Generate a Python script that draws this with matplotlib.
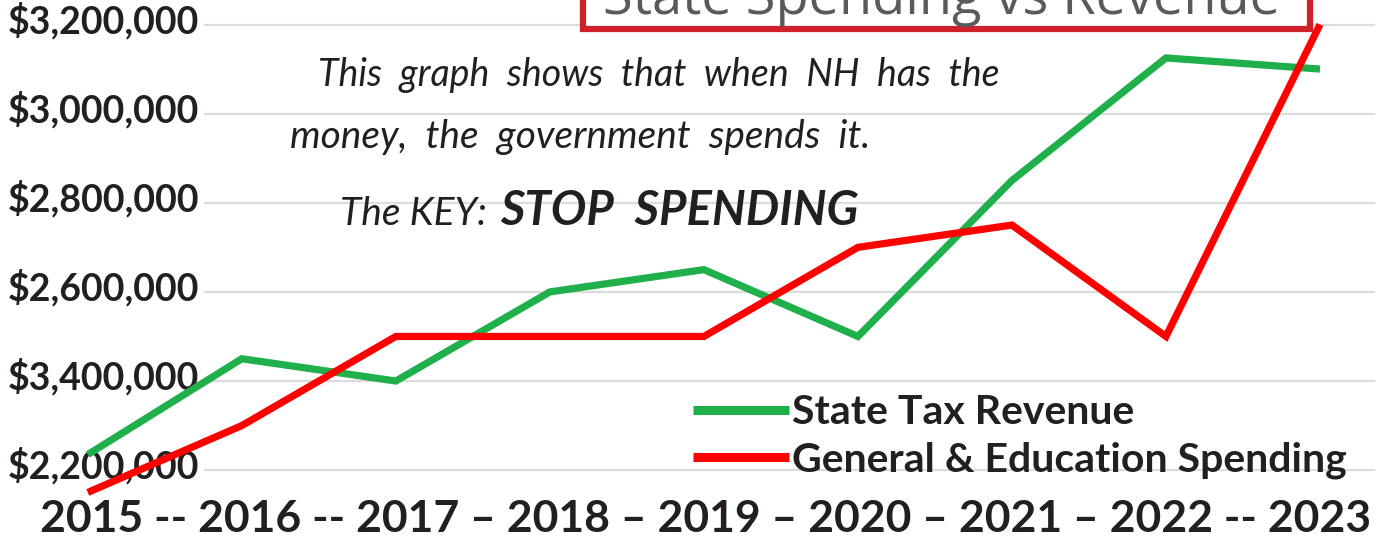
import matplotlib
matplotlib.use("Agg")
import matplotlib.pyplot as plt
import matplotlib.transforms as mtransforms
from matplotlib.patches import Rectangle

# data (values in dollars)
years = [2015, 2016, 2017, 2018, 2019, 2020, 2021, 2022, 2023]
revenue = [2235000, 2450000, 2400000, 2600000, 2650000, 2500000, 2850000, 3125000, 3100000]
spending = [2150000, 2300000, 2500000, 2500000, 2500000, 2700000, 2750000, 2500000, 3200000]

ytick_values = [2200000, 2400000, 2600000, 2800000, 3000000, 3200000]
# labels as printed in the source (note the "$3,400,000" typo)
ytick_labels = ["$2,200,000", "$3,400,000", "$2,600,000",
                "$2,800,000", "$3,000,000", "$3,200,000"]
year_separators = ["--", "--", "\u2013", "\u2013", "\u2013", "\u2013", "\u2013", "--"]

GREEN = "#1fb04b"
RED = "#ff0000"
GRID = "#dcdcdc"
INK = "#231f20"
W, H = 1397, 537

fig = plt.figure(figsize=(W / 100, H / 100), dpi=100)
ax = fig.add_axes([0, 0, 1, 1])
ax.set_xlim(2014.43, 2023.5)
ax.set_ylim(2050000, 3255000)
ax.axis("off")

# gridlines
for v in ytick_values:
    ax.axhline(v, xmin=205 / W, xmax=1374 / W, color=GRID, lw=1.6, zorder=1)

# y labels
ylab_tr = mtransforms.offset_copy(
    mtransforms.blended_transform_factory(ax.transAxes, ax.transData),
    fig=fig, y=4, units="dots")
for v, lab in zip(ytick_values, ytick_labels):
    ax.text(8 / W, v, lab, transform=ylab_tr, ha="left", va="center",
            fontsize=27, family="Lato", weight="bold", color=INK, zorder=3)

# x label string
parts = [str(years[0])]
for sep, y in zip(year_separators, years[1:]):
    parts.append(sep)
    parts.append(str(y))
ax.text(40 / W, 1 - 519 / H, " ".join(parts), transform=ax.transAxes,
        ha="left", va="center", fontsize=32, family="Lato", weight="bold",
        color=INK)

# series
ax.plot(years, revenue, color=GREEN, lw=5.2, solid_capstyle="butt",
        solid_joinstyle="miter", label="State Tax Revenue", zorder=4)
ax.plot(years, spending, color=RED, lw=5.2, solid_capstyle="butt",
        solid_joinstyle="miter", label="General & Education Spending", zorder=5)

leg = ax.legend(loc="upper left", bbox_to_anchor=(693 / W, 1 - 394 / H),
                frameon=False, borderpad=0, borderaxespad=0,
                handlelength=2.35, handletextpad=0.06, labelspacing=0.25,
                prop={"family": "Lato", "weight": "bold", "size": 29.5})
for t in leg.get_texts():
    t.set_color(INK)
for ln in leg.get_lines():
    ln.set_linewidth(6.5)

# title box (cut off at the top of the picture)
box = Rectangle((583 / W, 1 - 29 / H), (1310 - 583) / W, 60 / H,
                transform=ax.transAxes, facecolor="white", edgecolor="#d0202a",
                lw=4.5, zorder=6, clip_on=False)
ax.add_patch(box)
ax.text(603 / W, 1 - 14 / H, "State Spending vs Revenue", transform=ax.transAxes,
        ha="left", va="baseline", fontsize=39, family="Open Sans",
        color="#5a5a5a", zorder=7)

# handwritten note
note = dict(transform=ax.transAxes, ha="left", va="center", family="Lato",
            style="italic", color=INK)
ax.text(318 / W, 1 - 75 / H, "This  graph  shows  that  when  NH  has  the",
        fontsize=27, **note)
ax.text(290 / W, 1 - 137 / H, "money,  the  government  spends  it.",
        fontsize=28, **note)
ax.text(340 / W, 1 - 214 / H, "The KEY:", fontsize=28, **note)
ax.text(500 / W, 1 - 211 / H, "STOP  SPENDING", fontsize=34, weight="bold", **note)

fig.savefig("out.png", dpi=100)
